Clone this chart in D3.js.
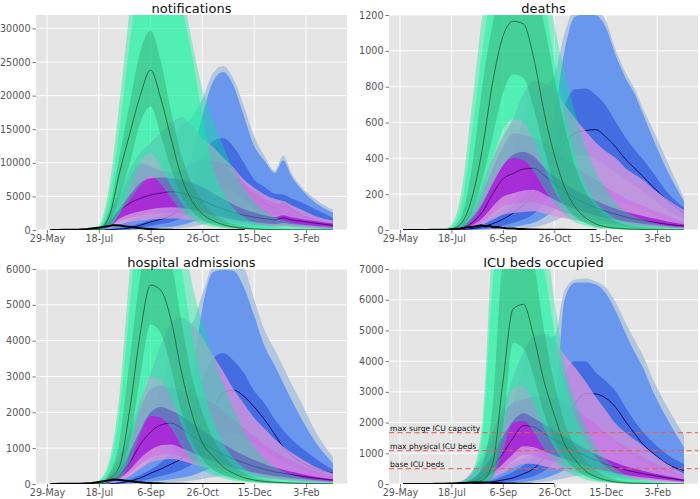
<!DOCTYPE html>
<html><head><meta charset="utf-8">
<script src="https://cdn.jsdelivr.net/npm/d3@7"></script>
<style>body{margin:0;background:#fff;} svg text{font-family:"DejaVu Sans",sans-serif;}</style>
</head><body><svg id="c" width="700" height="499"></svg>
<script>
// ---------- shared grid (days after 29-May-2020) ----------
const DAYS = [40,50,60,70,80,90,100,110,120,130,140,150,160,170,180,190,200,210,220,228,236,246,260,276];
const X_TICK_DAYS = [0,50,100,150,200,250];
const X_TICK_LABELS = ['29-May','18-Jul','6-Sep','26-Oct','15-Dec','3-Feb'];
const NOTIF_Y = [0,5000,10000,15000,20000,25000,30000];
const DEATHS_Y = [0,200,400,600,800,1000,1200];
const HOSP_Y = [0,1000,2000,3000,4000,5000,6000];
const ICU_Y = [0,1000,2000,3000,4000,5000,6000,7000];

// ---------- notifications ----------
const notifG_oHi = [0,600,6500,19000,33000,45000,50000,48000,42000,36000,28000,21000,16500,12500,9000,6200,4200,2800,1900,1450,1100,780,480,300];
const notifG_mHi = [0,400,5000,15000,28000,38000,42000,40000,36000,33000,26000,17000,9500,5500,3200,1900,1150,720,460,340,260,180,110,70];
const notifG_iHi = [0,200,3000,11000,19000,26500,29700,25000,17500,11000,7000,4300,2500,1500,900,540,330,200,130,95,70,50,32,20];
const notifG_med = [0,100,2000,8500,14400,20000,23800,19500,13500,7800,4300,2400,1400,800,450,250,150,90,60,40,30,20,15,10];
const notifG_iLo = [0,50,1000,5000,10000,16000,18400,14000,9000,5000,2800,1500,850,500,280,160,100,60,40,30,20,15,10,5];
const notifG_mLo = [0,30,500,2500,6000,10000,11500,9500,6500,4000,2300,1300,750,430,250,150,90,55,35,25,20,15,10,5];
const notifG_oLo = [0,20,500,2500,4500,6500,8000,6800,4700,2700,1500,850,500,280,160,90,55,32,21,14,10,7,5,3];

const notifP_oHi = [0,300,2500,5500,9000,11500,13000,14500,16000,16800,15500,13600,12400,10800,9300,7500,6300,5300,4600,4300,3700,3000,2000,1400];
const notifP_mHi = [0,200,2000,4800,7800,9900,9500,8800,8600,9000,10000,10500,10300,9900,8300,7000,5700,4700,4000,3800,3200,2400,1600,1000];
const notifP_iHi = [0,100,1300,3200,5200,7000,7700,7800,7700,7500,7000,6400,5500,4600,3800,3100,2600,2200,1900,2200,1900,1600,1300,950];
const notifP_med = [0,50,800,2800,4000,4700,5200,5500,5700,5500,5000,4400,3700,3100,2600,2200,1900,1700,1500,1800,1500,1300,1000,700];
const notifP_iLo = [0,30,480,1700,2400,2800,3100,3300,3400,3300,3000,2650,2200,1850,1550,1300,1150,1000,900,1050,900,780,600,420];
const notifP_mLo = [0,22,360,1250,1800,2100,2350,2500,2550,2500,2250,2000,1650,1400,1170,1000,850,760,680,800,680,580,450,320];
const notifP_oLo = [0,15,240,840,1200,1400,1560,1650,1700,1650,1500,1300,1100,930,780,660,570,510,450,540,450,390,300,210];

const notifB_oHi = [0,100,450,1100,2000,3500,6000,9500,13000,15500,16800,19500,23300,24400,22500,18500,14000,11000,8800,11100,8500,6400,4450,3000];
const notifB_mHi = [0,50,300,800,1500,2000,2300,3500,5500,8000,11000,17000,22000,23500,21500,17000,12500,10300,8500,10400,8000,6000,4000,2600];
const notifB_iHi = [0,20,100,300,600,1000,1500,2200,3300,5000,7000,10400,13200,13700,12400,10000,7500,6400,5400,5300,4700,4100,3000,1800];
const notifB_med = [0,10,50,150,300,700,1200,1600,2200,3200,5000,7200,9000,9700,9000,6500,5000,4000,3300,4000,3100,2200,1200,450];
const notifB_iLo = [0,5,20,60,120,350,600,900,1200,1800,2800,4000,5300,6200,5800,4500,3400,2700,2200,2500,2000,1300,700,250];
const notifB_mLo = [0,2,8,25,50,150,250,380,500,750,1200,1800,2500,3000,2900,2300,1800,1400,1150,1300,1050,700,380,130];
const notifB_oLo = [0,1,3,10,20,60,100,150,200,300,500,800,1100,1400,1400,1100,850,700,580,650,520,350,190,60];

// ---------- deaths ----------
const deathsG_oHi = [0,30,220,700,1200,1650,1900,2000,1950,1750,1450,1150,880,660,470,330,230,150,100,75,58,40,22,12];
const deathsG_mHi = [0,20,150,550,1000,1400,1650,1750,1700,1550,1300,950,660,420,260,160,100,62,40,30,22,15,9,6];
const deathsG_iHi = [0,10,80,350,800,1150,1400,1480,1450,1350,1150,850,580,360,220,130,80,48,30,22,16,11,7,4];
const deathsG_med = [0,5,40,180,450,820,1080,1165,1150,960,660,420,240,130,70,35,18,10,6,4,3,2,1,1];
const deathsG_iLo = [0,2,20,100,280,520,760,870,850,680,450,260,140,75,40,20,12,7,4,3,2,1,1,0];
const deathsG_mLo = [0,2,15,80,200,400,560,620,600,500,350,220,130,70,38,20,11,6,4,3,2,1,1,0];
const deathsG_oLo = [0,1,10,50,140,260,360,400,390,330,230,150,85,45,25,13,7,4,2,2,1,1,0,0];

const deathsP_oHi = [0,5,40,120,250,400,520,620,760,830,820,780,700,625,555,490,440,400,340,310,280,230,170,110];
const deathsP_mHi = [0,3,30,100,210,340,460,540,530,515,490,450,400,355,315,280,240,205,175,155,135,110,80,45];
const deathsP_iHi = [0,2,20,70,150,260,360,420,437,410,350,300,260,225,195,165,140,118,100,90,78,65,48,32];
const deathsP_med = [0,1,10,40,100,200,285,315,340,345,305,260,215,180,150,125,105,88,72,62,53,44,32,22];
const deathsP_iLo = [0,1,6,26,65,130,185,205,220,225,200,170,140,117,98,81,68,57,47,40,34,29,21,14];
const deathsP_mLo = [0,0,4,18,45,90,130,145,155,155,140,120,97,81,68,56,47,40,32,28,24,20,14,10];
const deathsP_oLo = [0,0,3,12,30,60,85,95,100,105,92,78,65,54,45,38,32,26,22,19,16,13,10,7];

const deathsB_oHi = [0,4,13,32,65,120,250,430,620,760,800,860,1100,1230,1240,1230,1170,1000,870,790,680,560,380,180];
const deathsB_mHi = [0,3,10,25,50,80,120,170,240,330,450,640,1000,1190,1205,1200,1130,970,840,760,650,510,330,160];
const deathsB_iHi = [0,2,6,15,32,55,90,135,190,260,350,480,690,785,790,755,695,600,510,450,395,320,210,125];
const deathsB_med = [0,1,3,8,18,35,60,95,140,200,300,410,490,540,555,560,520,460,390,345,300,240,165,95];
const deathsB_iLo = [0,0,1,3,7,14,25,40,60,90,150,240,340,410,420,395,360,320,280,250,215,170,110,60];
const deathsB_mLo = [0,0,0,1,3,6,11,18,27,40,70,110,160,200,210,200,185,165,145,130,110,85,55,30];
const deathsB_oLo = [0,0,0,0,1,2,4,7,10,16,30,50,80,100,105,100,92,82,72,65,55,42,27,15];

// ---------- hospital admissions ----------
const hospG_oHi = [0,100,650,2500,6000,9300,10800,10800,9600,7300,5600,4500,3600,2800,2100,1500,1050,700,470,350,260,180,110,60];
const hospG_mHi = [0,80,500,2000,5000,7800,9000,9000,8000,6000,4200,2800,1800,1150,720,450,280,180,115,85,65,45,28,18];
const hospG_iHi = [0,40,300,1200,3500,5800,7000,7100,6200,4500,3000,2000,1300,820,500,310,190,120,75,55,40,28,18,10];
const hospG_med = [0,20,150,500,2100,4200,5550,5400,4550,3100,1950,1150,780,480,300,180,110,70,45,35,25,18,10,6];
const hospG_iLo = [0,10,80,300,1200,3000,4450,4200,3200,2000,1200,700,420,260,160,100,60,38,25,18,13,9,5,3];
const hospG_mLo = [0,8,70,250,900,2200,3000,2900,2400,1650,1000,600,380,240,150,90,55,35,23,17,12,8,5,3];
const hospG_oLo = [0,5,45,150,600,1400,1900,1850,1550,1050,650,400,250,160,100,60,38,24,16,12,8,6,3,2];

const hospP_oHi = [0,30,250,800,1500,2300,3100,3900,4500,4650,4450,4100,3600,3150,2650,2250,1850,1550,1250,1050,880,700,470,300];
const hospP_mHi = [0,20,200,650,1300,2100,2650,2750,2700,2600,2500,2400,2250,2050,1800,1560,1330,1100,900,770,650,520,360,230];
const hospP_iHi = [0,10,100,400,900,1500,2000,2150,2050,1900,1700,1500,1300,1120,950,800,670,560,460,400,340,280,200,130];
const hospP_med = [0,5,60,250,600,1100,1450,1650,1700,1550,1350,1150,980,830,700,590,490,410,340,300,260,215,160,110];
const hospP_iLo = [0,3,40,160,400,720,950,1080,1100,1000,880,750,640,540,455,385,320,265,220,195,170,140,105,72];
const hospP_mLo = [0,2,30,120,300,550,720,820,850,780,680,580,490,415,350,295,245,205,170,150,130,108,80,55];
const hospP_oLo = [0,2,20,80,220,420,600,680,700,650,560,480,400,340,290,240,200,165,138,120,104,86,64,44];

const hospB_oHi = [0,10,50,150,350,800,1600,2700,3800,4400,4500,5300,6100,6300,6250,6050,5150,4300,3750,3270,2800,2250,1420,760];
const hospB_mHi = [0,5,30,100,250,450,670,900,1300,2000,3000,4900,5900,5980,5950,5500,4700,3850,3300,2820,2350,1800,1140,580];
const hospB_iHi = [0,2,15,50,130,250,400,600,900,1400,2100,2900,3500,3650,3450,3100,2600,2250,1800,1500,1250,1000,700,390];
const hospB_med = [0,1,8,30,80,170,300,420,560,720,1050,1600,2050,2550,2620,2450,2150,1800,1380,1030,790,600,420,300];
const hospB_iLo = [0,0,3,12,35,80,150,220,300,400,550,800,1050,1300,1380,1300,1150,950,760,620,500,380,250,150];
const hospB_mLo = [0,0,1,5,15,35,65,95,130,175,240,350,460,570,600,570,500,420,330,270,220,165,110,65];
const hospB_oLo = [0,0,0,2,6,14,26,38,52,70,96,140,185,230,240,230,200,170,130,110,88,66,44,26];

// ---------- ICU beds occupied ----------
const icuG_oHi = [0,15,100,400,2000,8000,11000,12000,11700,10300,8400,6000,3900,2700,1900,1250,800,500,300,210,150,100,60,35];
const icuG_mHi = [0,10,70,300,1500,6500,9000,10000,9800,8500,7000,5000,3300,2200,1450,900,560,340,200,145,105,70,42,25];
const icuG_iHi = [0,5,40,150,600,2500,7200,8000,8000,7200,5000,3300,2000,1250,760,450,260,150,85,60,42,28,16,9];
const icuG_med = [0,3,20,50,120,650,3300,5700,5850,4800,3350,2250,1300,800,430,240,130,65,35,25,18,12,7,4];
const icuG_iLo = [0,1,8,30,50,200,1800,4600,4400,3500,2300,1400,850,500,280,150,80,45,25,18,12,8,5,2];
const icuG_mLo = [0,1,6,25,60,300,1700,3100,3200,2600,1800,1200,700,430,235,130,70,36,20,14,10,7,4,2];
const icuG_oLo = [0,0,4,15,40,200,1100,2000,2050,1700,1150,780,450,280,150,85,45,23,12,9,6,4,2,1];

const icuP_oHi = [0,20,100,400,900,1700,2500,3500,4300,4800,4900,4650,4200,3800,3350,2850,2400,1950,1650,1450,1250,980,640,330];
const icuP_mHi = [0,15,80,300,750,1450,2250,2650,2750,2850,2850,2800,2650,2450,2200,1950,1650,1400,1180,1020,880,700,480,250];
const icuP_iHi = [0,8,40,170,450,950,1550,2050,2300,2150,1950,1750,1550,1350,1150,980,820,690,570,500,430,350,250,150];
const icuP_med = [0,3,20,80,230,550,1000,1500,1900,1850,1650,1450,1250,1080,920,780,650,540,450,390,340,280,200,120];
const icuP_iLo = [0,2,13,52,150,360,650,980,1230,1200,1070,940,810,700,600,500,420,350,290,250,220,180,130,78];
const icuP_mLo = [0,1,10,40,115,275,500,750,950,925,825,725,625,540,460,390,325,270,225,195,170,140,100,60];
const icuP_oLo = [0,1,7,28,80,190,350,520,660,650,580,510,440,380,320,270,230,190,158,136,119,98,70,42];

const icuB_oHi = [0,5,20,60,150,500,1300,2600,3900,4700,4800,4800,6300,6650,6700,6600,6400,5900,5200,4700,4200,3400,2500,1600];
const icuB_mHi = [0,3,12,40,100,250,500,700,850,1000,1500,2200,6000,6550,6560,6500,6200,5600,4850,4300,3800,3000,2100,1200];
const icuB_iHi = [0,1,6,20,50,120,250,400,600,900,1400,2000,3550,4000,4000,3650,3350,3000,2450,2050,1700,1350,950,650];
const icuB_med = [0,0,3,10,30,70,130,200,330,500,850,1400,2100,2600,2950,2930,2800,2480,2000,1650,1300,1000,650,440];
const icuB_iLo = [0,0,1,4,12,30,60,100,160,260,420,700,1050,1400,1600,1650,1550,1350,1100,900,720,560,380,250];
const icuB_mLo = [0,0,0,2,5,12,25,42,68,110,180,300,450,600,690,710,670,580,470,390,310,240,165,110];
const icuB_oLo = [0,0,0,1,2,5,10,17,28,45,75,125,190,250,290,300,280,240,200,165,130,100,70,45];

// ---------- observed (black) ----------
const OBS_DAYS = [3,7,11,15,19,23,27,31,35,39,43,47,51,55,59,63,67,71,75,79,83,87,91,95,99,103,107,111,115,119,123,127,131,140,150,160,170,180,191];
const notifObs = [10,15,12,20,25,30,45,70,110,160,230,300,380,500,540,690,700,660,560,480,400,330,250,190,140,100,70,50,35,25,15,10,8,5,3,2,1,0,0];
const deathsObs = [0,0,0,0,0,0,0,1,1,1,2,3,5,7,9,12,15,18,22,27,20,24,15,17,12,10,9,8,6,5,4,3,3,2,1,1,0,0,0];
const hospObs = [3,3,4,4,5,6,8,10,15,22,30,45,60,80,100,125,120,110,95,85,70,55,45,35,28,22,18,14,10,8,6,5,4,3,2,1,1,0,0];
const icuObs = [2,2,2,2,2,3,3,4,5,7,10,14,19,25,30,36,42,46,50,48,45,40,35,30,25,20,16,13,10,8,6,5,4,3,2];

// ---------- ICU capacity lines ----------
const ICU_LINES = [1670,1085,500];
const ICU_LINE_LABELS = ['max surge ICU capacity','max physical ICU beds','base ICU beds'];

// ---------- styles ----------
const STY = {
  B:{fills:['rgba(176,196,222,0.95)','rgba(100,149,237,0.95)','rgba(65,105,225,0.92)'], line:'#0a0a60'},
  P:{fills:['rgba(218,150,222,0.78)','rgba(200,110,225,0.6)','rgba(148,0,211,0.65)'], line:'#4a087a'},
  G:{fills:['rgba(0,235,150,0.38)','rgba(0,250,154,0.42)','rgba(40,150,95,0.35)'], line:'#2b6e45'}
};
function scen(oLo,oHi,mLo,mHi,iLo,iHi,med){ return {bands:[[oLo,oHi],[mLo,mHi],[iLo,iHi]], med:med}; }

const panels = [
  {title:'notifications', box:[36,15,347,230], yMax:32000, yTicks:NOTIF_Y, obs:notifObs,
   scen:{B:scen(notifB_oLo,notifB_oHi,notifB_mLo,notifB_mHi,notifB_iLo,notifB_iHi,notifB_med),
         P:scen(notifP_oLo,notifP_oHi,notifP_mLo,notifP_mHi,notifP_iLo,notifP_iHi,notifP_med),
         G:scen(notifG_oLo,notifG_oHi,notifG_mLo,notifG_mHi,notifG_iLo,notifG_iHi,notifG_med)}},
  {title:'deaths', box:[389,15,698,230], yMax:1200, yTicks:DEATHS_Y, obs:deathsObs,
   scen:{B:scen(deathsB_oLo,deathsB_oHi,deathsB_mLo,deathsB_mHi,deathsB_iLo,deathsB_iHi,deathsB_med),
         P:scen(deathsP_oLo,deathsP_oHi,deathsP_mLo,deathsP_mHi,deathsP_iLo,deathsP_iHi,deathsP_med),
         G:scen(deathsG_oLo,deathsG_oHi,deathsG_mLo,deathsG_mHi,deathsG_iLo,deathsG_iHi,deathsG_med)}},
  {title:'hospital admissions', box:[36,269,347,484], yMax:6000, yTicks:HOSP_Y, obs:hospObs,
   scen:{B:scen(hospB_oLo,hospB_oHi,hospB_mLo,hospB_mHi,hospB_iLo,hospB_iHi,hospB_med),
         P:scen(hospP_oLo,hospP_oHi,hospP_mLo,hospP_mHi,hospP_iLo,hospP_iHi,hospP_med),
         G:scen(hospG_oLo,hospG_oHi,hospG_mLo,hospG_mHi,hospG_iLo,hospG_iHi,hospG_med)}},
  {title:'ICU beds occupied', box:[389,269,698,484], yMax:7000, yTicks:ICU_Y, obs:icuObs, capacity:true,
   scen:{B:scen(icuB_oLo,icuB_oHi,icuB_mLo,icuB_mHi,icuB_iLo,icuB_iHi,icuB_med),
         P:scen(icuP_oLo,icuP_oHi,icuP_mLo,icuP_mHi,icuP_iLo,icuP_iHi,icuP_med),
         G:scen(icuG_oLo,icuG_oHi,icuG_mLo,icuG_mHi,icuG_iLo,icuG_iHi,icuG_med)}}
];

const svg = d3.select('#c');
const defs = svg.append('defs');
const XDOM = [-10.65, 289.65];

panels.forEach((p,pi)=>{
  const [x0,y0,x1,y1] = p.box;
  const x = d3.scaleLinear().domain(XDOM).range([x0,x1]);
  const y = d3.scaleLinear().domain([0,p.yMax]).range([y1,y0]);
  const g = svg.append('g');
  g.append('rect').attr('x',x0).attr('y',y0).attr('width',x1-x0).attr('height',y1-y0).attr('fill','#e5e5e5');
  p.yTicks.forEach(v=>g.append('line').attr('x1',x0).attr('x2',x1).attr('y1',y(v)).attr('y2',y(v)).attr('stroke','#fff').attr('stroke-width',1));
  X_TICK_DAYS.forEach(v=>g.append('line').attr('x1',x(v)).attr('x2',x(v)).attr('y1',y0).attr('y2',y1).attr('stroke','#fff').attr('stroke-width',1));
  defs.append('clipPath').attr('id','clip'+pi).append('rect').attr('x',x0).attr('y',y0).attr('width',x1-x0).attr('height',y1-y0);
  const cg = g.append('g').attr('clip-path',`url(#clip${pi})`);
  ['B','P','G'].forEach(k=>{
    const s = p.scen[k];
    s.bands.forEach((b,bi)=>{
      const area = d3.area().x((d,i)=>x(DAYS[i])).y0((d,i)=>y(b[0][i])).y1((d,i)=>y(b[1][i])).curve(d3.curveMonotoneX);
      cg.append('path').attr('d',area(DAYS)).attr('fill',STY[k].fills[bi]);
    });
    const line = d3.line().x((d,i)=>x(DAYS[i])).y((d,i)=>y(s.med[i])).curve(d3.curveMonotoneX);
    cg.append('path').attr('d',line(DAYS)).attr('fill','none').attr('stroke',STY[k].line).attr('stroke-width',1);
  });
  const oline = d3.line().x((d,i)=>x(OBS_DAYS[i])).y(d=>y(d));
  cg.append('path').attr('d',oline(p.obs)).attr('fill','none').attr('stroke','#000').attr('stroke-width',2);
  if(p.capacity){
    ICU_LINES.forEach((v,i)=>{
      cg.append('line').attr('x1',x0).attr('x2',x1).attr('y1',y(v)).attr('y2',y(v))
        .attr('stroke','rgba(232,92,80,0.85)').attr('stroke-width',1.2).attr('stroke-dasharray','5,3.5');
      g.append('text').attr('x',x0+1).attr('y',y(v)-2).attr('font-size',7.6).attr('fill','#111').text(ICU_LINE_LABELS[i]);
    });
  }
  const xa = g.append('g').attr('transform',`translate(0,${y1})`)
    .call(d3.axisBottom(x).tickValues(X_TICK_DAYS).tickFormat((d,i)=>X_TICK_LABELS[i]).tickSize(3.5).tickPadding(2));
  const ya = g.append('g').attr('transform',`translate(${x0},0)`)
    .call(d3.axisLeft(y).tickValues(p.yTicks).tickFormat(d3.format('d')).tickSize(3.5).tickPadding(2));
  [xa,ya].forEach(a=>{
    a.select('.domain').remove();
    a.selectAll('line').attr('stroke','#555').attr('stroke-width',0.8);
    a.selectAll('text').attr('fill','#555').attr('font-size',9.6).attr('font-family','DejaVu Sans');
  });
  g.append('text').attr('x',(x0+x1)/2).attr('y',y0-2.5).attr('text-anchor','middle')
    .attr('font-size',13).attr('fill','#111').text(p.title);
});
</script></body></html>
